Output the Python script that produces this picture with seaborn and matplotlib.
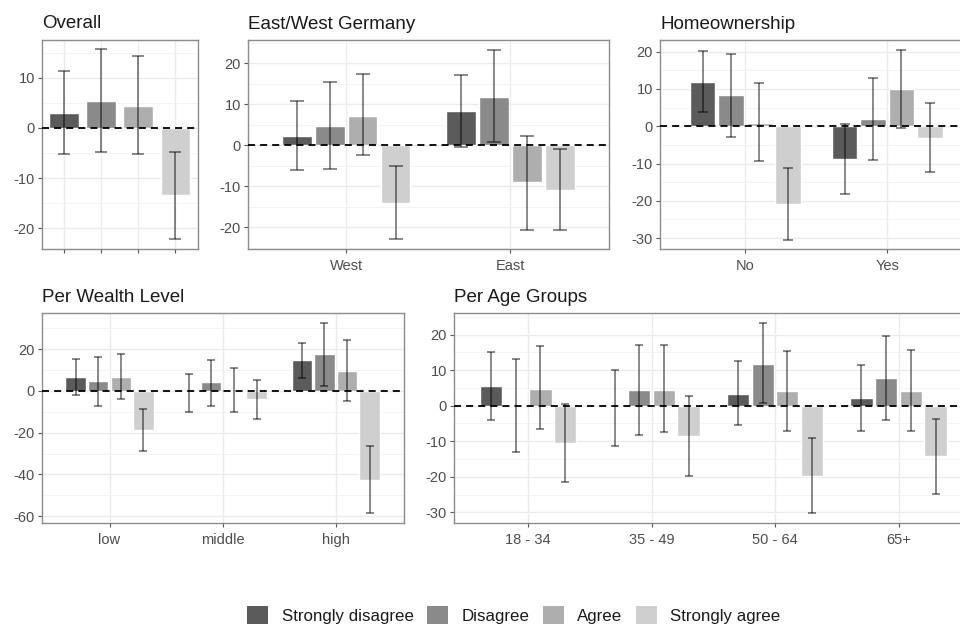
import numpy as np
import pandas as pd
import matplotlib
matplotlib.use("Agg")
import matplotlib.pyplot as plt
import seaborn as sns
from matplotlib.patches import Patch
from matplotlib.ticker import MultipleLocator

sns.set_theme(style="white")
plt.rcParams["font.family"] = ["Liberation Sans", "DejaVu Sans"]
plt.rcParams["axes.unicode_minus"] = False

responses = ["Strongly disagree", "Disagree", "Agree", "Strongly agree"]
colors = ["#5b5b5b", "#8a8a8a", "#aeaeae", "#cfcfcf"]

# ---- Overall ----
overall_est = [3.0, 5.4, 4.4, -13.4]
overall_lo = [-5.1, -4.7, -5.2, -22.2]
overall_hi = [11.3, 15.7, 14.3, -4.8]

# ---- East/West Germany ----
region_cats = ["West", "East"]
region_est = [[2.3, 8.3], [4.7, 11.8], [7.2, -9.1], [-14.1, -10.9]]
region_lo = [[-6.1, -0.5], [-5.7, 0.8], [-2.5, -20.8], [-23.0, -20.8]]
region_hi = [[10.7, 17.2], [15.3, 23.3], [17.3, 2.2], [-5.1, -1.0]]

# ---- Homeownership ----
home_cats = ["No", "Yes"]
home_est = [[11.8, -8.9], [8.3, 1.9], [0.9, 10.1], [-20.9, -3.1]]
home_lo = [[3.7, -18.2], [-2.8, -9.1], [-9.3, -0.4], [-30.4, -12.3]]
home_hi = [[20.1, 0.5], [19.4, 13.0], [11.5, 20.6], [-11.3, 6.2]]

# ---- Per Wealth Level ----
wealth_cats = ["low", "middle", "high"]
wealth_est = [[6.8, -0.5, 14.6], [4.6, 4.1, 17.7], [6.8, 0.3, 9.7], [-18.6, -3.8, -42.6]]
wealth_lo = [[-2.1, -10.2, 6.0], [-7.0, -7.0, 2.4], [-3.7, -10.0, -4.8], [-29.0, -13.4, -58.7]]
wealth_hi = [[15.3, 8.0, 23.1], [16.1, 15.0, 32.6], [17.8, 11.0, 24.5], [-8.9, 5.1, -26.4]]

# ---- Per Age Groups ----
age_cats = ["18 - 34", "35 - 49", "50 - 64", "65+"]
age_est = [[5.5, -0.2, 3.4, 2.1], [0.1, 4.5, 11.7, 7.7], [4.8, 4.5, 4.1, 4.1], [-10.5, -8.4, -19.9, -14.2]]
age_lo = [[-3.9, -11.2, -5.4, -7.2], [-12.9, -8.1, 0.7, -3.9], [-6.5, -7.5, -7.2, -7.1], [-21.5, -19.8, -30.3, -24.9]]
age_hi = [[15.0, 10.0, 12.6, 11.4], [13.0, 17.0, 23.3, 19.6], [16.7, 17.1, 15.4, 15.6], [0.4, 2.7, -9.2, -3.6]]

W, H = 960, 626
fig = plt.figure(figsize=(9.6, 6.26), dpi=100)


def px_axes(left, top, right, bottom):
    return fig.add_axes([left / W, 1 - bottom / H, (right - left) / W, (bottom - top) / H])


def style_axes(ax, title, cats, ystep, lo_all, hi_all, show_xlabels=True):
    ymin, ymax = min(lo_all), max(hi_all)
    pad = 0.05 * (ymax - ymin)
    ax.set_ylim(ymin - pad, ymax + pad)
    ax.set_xlim(-0.6, len(cats) - 0.4)
    ax.yaxis.set_major_locator(MultipleLocator(ystep))
    ax.yaxis.set_minor_locator(MultipleLocator(ystep / 2))
    ax.set_xticks(range(len(cats)))
    ax.set_xticklabels(cats if show_xlabels else [""] * len(cats))
    ax.grid(True, which="major", color="#ebebeb", lw=1.0, zorder=0)
    ax.grid(True, which="minor", axis="y", color="#f3f3f3", lw=0.6, zorder=0)
    ax.set_axisbelow(True)
    for s in ax.spines.values():
        s.set_visible(True)
        s.set_color("#8c8c8c")
        s.set_linewidth(1.0)
    ax.tick_params(axis="both", which="major", length=3, width=0.8, color="#555555",
                   labelcolor="#4d4d4d", labelsize=10.5, pad=2, left=True, bottom=True)
    ax.tick_params(axis="x", which="major", pad=4)
    ax.tick_params(axis="both", which="minor", length=0)
    ax.set_xlabel("")
    ax.set_ylabel("")
    ax.set_title(title, loc="left", fontsize=13.5, color="#1a1a1a", pad=8)
    ax.axhline(0, color="black", lw=1.3, ls=(0, (3.9, 2.8)), zorder=6)


def grouped_panel(ax, title, cats, est, lo, hi, ystep, capsize):
    rows = []
    for j, r in enumerate(responses):
        for i, c in enumerate(cats):
            rows.append({"cat": c, "resp": r, "est": est[j][i]})
    df = pd.DataFrame(rows)
    sns.barplot(data=df, x="cat", y="est", hue="resp", order=cats, hue_order=responses,
                palette=colors, width=0.8, gap=0.1, errorbar=None, legend=False,
                saturation=1, ax=ax, zorder=2)
    for j in range(len(responses)):
        xs = np.arange(len(cats)) + (j - 1.5) * 0.2
        e = np.array(est[j])
        yerr = np.vstack([e - np.array(lo[j]), np.array(hi[j]) - e])
        ax.errorbar(xs, e, yerr=yerr, fmt="none", ecolor="black", alpha=0.5,
                    elinewidth=1.3, capsize=capsize, capthick=1.3, zorder=5)
    style_axes(ax, title, cats, ystep,
               [v for row in lo for v in row], [v for row in hi for v in row])


# Overall panel
ax1 = px_axes(41.7, 39.5, 197.7, 249)
df1 = pd.DataFrame({"resp": responses, "est": overall_est})
sns.barplot(data=df1, x="resp", y="est", hue="resp", order=responses, hue_order=responses,
            palette=colors, width=0.8, dodge=False, errorbar=None, legend=False,
            saturation=1, ax=ax1, zorder=2)
e1 = np.array(overall_est)
ax1.errorbar(np.arange(4), e1, yerr=np.vstack([e1 - np.array(overall_lo), np.array(overall_hi) - e1]),
             fmt="none", ecolor="black", alpha=0.5, elinewidth=1.3, capsize=4.6, capthick=1.3, zorder=5)
style_axes(ax1, "Overall", responses, 10, overall_lo, overall_hi, show_xlabels=False)

ax2 = px_axes(247.7, 40, 609, 249)
grouped_panel(ax2, "East/West Germany", region_cats, region_est, region_lo, region_hi, 10, 4.7)

ax3 = px_axes(660, 40, 972.4, 249)
grouped_panel(ax3, "Homeownership", home_cats, home_est, home_lo, home_hi, 10, 3.6)

ax4 = px_axes(41.7, 313.3, 403.5, 523)
grouped_panel(ax4, "Per Wealth Level", wealth_cats, wealth_est, wealth_lo, wealth_hi, 20, 3.0)

ax5 = px_axes(454, 313.3, 972.6, 523)
grouped_panel(ax5, "Per Age Groups", age_cats, age_est, age_lo, age_hi, 10, 3.2)

handles = [Patch(facecolor=c, edgecolor="none", label=r) for c, r in zip(colors, responses)]
fig.legend(handles=handles, loc="center", bbox_to_anchor=(514 / W, 1 - 615 / H), ncol=4,
           frameon=False, fontsize=12.2, handlelength=1.24, handleheight=1.24,
           handletextpad=0.8, columnspacing=0.78, labelcolor="#1a1a1a")

fig.savefig("out.png", dpi=100)
